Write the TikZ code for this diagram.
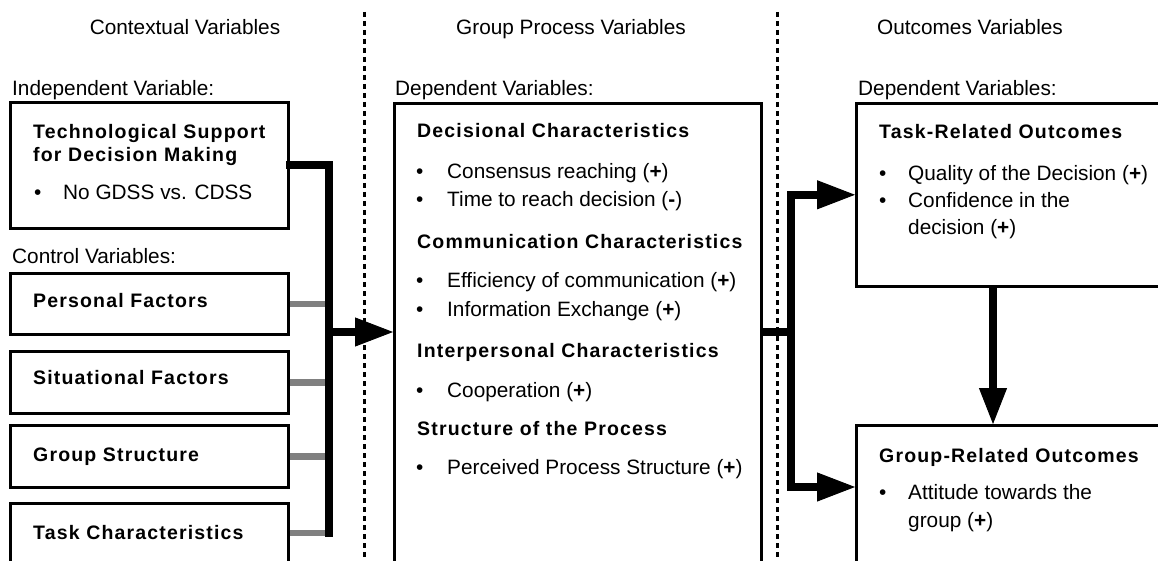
\documentclass[tikz,border=0pt]{standalone}
\usepackage{fontspec}
\setmainfont{Liberation Sans}
\newfontfamily\headfamily{Liberation Sans}[LetterSpace=6]
\usetikzlibrary{arrows.meta}

\tikzset{
  vbox/.style={draw, line width=2.6pt, inner sep=0pt, anchor=north west},
  lbl/.style={anchor=west, inner sep=0pt, text height=15pt, text depth=0pt,
    font={\fontsize{20.8}{25}\selectfont}},
  coltitle/.style={lbl, anchor=center},
  head/.style={anchor=west, inner sep=0pt, text height=14pt, text depth=0pt,
    font={\headfamily\bfseries\fontsize{19.5}{22}\selectfont}},
  feed/.style={line width=8pt, line join=miter},
  ctrl/.style={line width=6.5pt, draw=gray},
  bigtip/.style={-{Triangle[length=38pt,width=29pt,line width=1pt]}},
  divider/.style={line width=3pt, dash pattern=on 5pt off 4pt}
}

\begin{document}
\begin{tikzpicture}[x=1pt,y=-1pt]
\path[use as bounding box] (0,0) rectangle (1158,561);
\fill[white] (0,0) rectangle (1158,561);
\clip (0,0) rectangle (1158,561);

% column dividers
\coordinate (d1top) at (364,12);
\coordinate (d1bot) at (364,561);
\coordinate (d2top) at (777,12);
\coordinate (d2bot) at (777,561);
\draw[divider] (d1top) -- (d1bot);
\draw[divider] (d2top) -- (d2bot);

% column titles
\node[coltitle] (t1) at (185,27) {Contextual Variables};
\node[coltitle] (t2) at (571,27) {Group Process Variables};
\node[coltitle] (t3) at (970,27) {Outcomes Variables};

% ---------- contextual variables ----------
\node[lbl] (indep) at (12,88) {Independent Variable:};
\node[vbox, minimum width=278pt, minimum height=126pt] (b1) at (9,101) {};
\node[head] (b1h1) at (33,132) {Technological Support};
\node[head] (b1h2) at (33,155) {for Decision Making};
\node[lbl] (b1d) at (34,192) {\textbullet};
\node[lbl] (b1i) at (63,192) {No GDSS vs. CDSS};

\node[lbl] (ctrlv) at (12,256) {Control Variables:};
\node[vbox, minimum width=278pt, minimum height=61pt] (b2) at (9,272) {};
\node[head] (b2h) at (33,300) {Personal Factors};
\node[vbox, minimum width=278pt, minimum height=62pt] (b3) at (9,350) {};
\node[head] (b3h) at (33,377) {Situational Factors};
\node[vbox, minimum width=278pt, minimum height=62pt] (b4) at (9,424) {};
\node[head] (b4h) at (33,454) {Group Structure};
\node[vbox, minimum width=278pt, minimum height=100pt] (b5) at (9,502) {};
\node[head] (b5h) at (33,532) {Task Characteristics};

% ---------- group process variables ----------
\node[lbl] (dep1) at (395,88) {Dependent Variables:};
\node[vbox, minimum width=367pt, minimum height=500pt] (mid) at (393,102) {};
\node[head] (m1) at (417,131) {Decisional Characteristics};
\node[lbl] (m1a) at (416,171) {\textbullet};
\node[lbl] (m1at) at (447,171) {Consensus reaching (\textbf{+})};
\node[lbl] (m1b) at (416,199) {\textbullet};
\node[lbl] (m1bt) at (447,199) {Time to reach decision (\textbf{-})};
\node[head] (m2) at (417,241) {Communication Characteristics};
\node[lbl] (m2a) at (416,280) {\textbullet};
\node[lbl] (m2at) at (447,280) {Efficiency of communication (\textbf{+})};
\node[lbl] (m2b) at (416,309) {\textbullet};
\node[lbl] (m2bt) at (447,309) {Information Exchange (\textbf{+})};
\node[head] (m3) at (417,350) {Interpersonal Characteristics};
\node[lbl] (m3a) at (416,390) {\textbullet};
\node[lbl] (m3at) at (447,390) {Cooperation (\textbf{+})};
\node[head] (m4) at (417,428) {Structure of the Process};
\node[lbl] (m4a) at (416,467) {\textbullet};
\node[lbl] (m4at) at (447,467) {Perceived Process Structure (\textbf{+})};

% ---------- outcome variables ----------
\node[lbl] (dep2) at (858,88) {Dependent Variables:};
\node[vbox, minimum width=330pt, minimum height=183pt] (tr) at (855,102) {};
\node[head] (r1) at (879,132) {Task-Related Outcomes};
\node[lbl] (r1a) at (879,173) {\textbullet};
\node[lbl] (r1at) at (908,173) {Quality of the Decision (\textbf{+})};
\node[lbl] (r1b) at (879,200) {\textbullet};
\node[lbl] (r1bt) at (908,200) {Confidence in the};
\node[lbl] (r1bt2) at (908,227) {decision (\textbf{+})};

\node[vbox, minimum width=330pt, minimum height=180pt] (br) at (855,424) {};
\node[head] (r2) at (879,455) {Group-Related Outcomes};
\node[lbl] (r2a) at (879,492) {\textbullet};
\node[lbl] (r2at) at (908,492) {Attitude towards the};
\node[lbl] (r2at2) at (908,520) {group (\textbf{+})};

% ---------- connectors ----------
\coordinate (lbusbot) at (329,533);
\coordinate (lfork) at (329,332);
\coordinate (rfork) at (791,332);
\coordinate (rlow) at (791,487);
\coordinate (vdown) at (993,300);

% control variables (grey) feed the bus
\draw[ctrl] (b2.east) -- (b2.east -| lbusbot);
\draw[ctrl] (b3.east) -- (b3.east -| lbusbot);
\draw[ctrl] (b4.east) -- (b4.east -| lbusbot);
\draw[ctrl] ([yshift=-31pt]b5.north east) -- (lbusbot);

% independent variable bus and arrow into the process box
\draw[feed, line cap=rect] (b1.east) -| (lbusbot);
\draw[feed, bigtip] (lfork) -- (mid.west |- lfork);

% process box to the outcomes
\draw[feed] (mid.east |- rfork) -- (rfork);
\draw[feed, bigtip] (rfork) |- (tr.west);
\draw[feed, bigtip] (rfork) |- (rlow -| br.west);

% task outcomes to group outcomes
\draw[line width=8.5pt, -{Triangle[length=36pt,width=28pt,line width=1pt]}]
  (tr.south -| vdown) -- (br.north -| vdown);
\end{tikzpicture}
\end{document}
